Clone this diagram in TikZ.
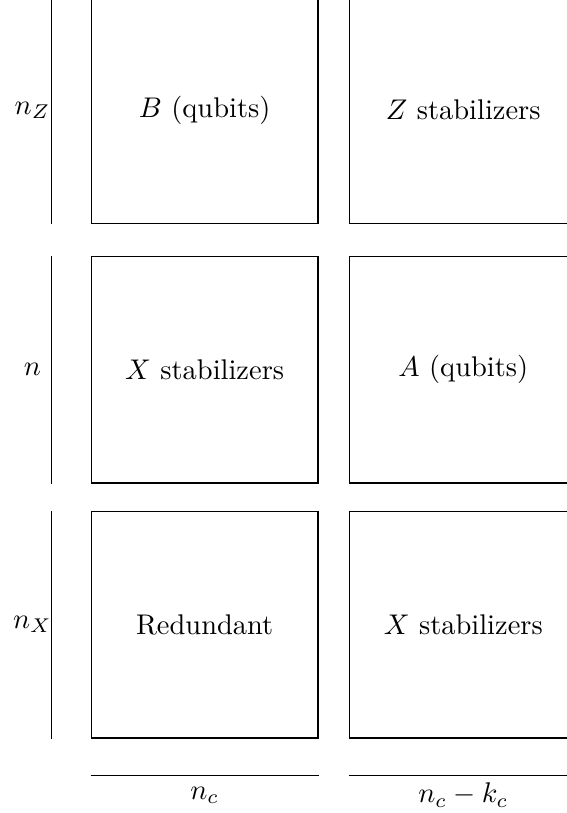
\documentclass[tikz,border=0pt]{standalone}
\usepackage{tikz}
\usetikzlibrary{positioning}
\usepackage{amsmath}

\begin{document}
\begin{tikzpicture}[
    node distance=0.335cm and 0.38cm,
    cell/.style={rectangle, draw=black, minimum width=2.8cm, minimum height=2.8cm,
                 inner sep=0pt, line width=0.4pt},
    dim/.style={line width=0.4pt},
    dimlabel/.style={inner sep=0pt}
]
\clip (-1.12,-0.92) rectangle (5.88,9.12);

% Nodes
\node[cell, anchor=south west] (red) at (0,0) {Redundant};
\node[cell, above=of red] (xstab) {$X$ stabilizers};
\node[cell, above=0.39cm of xstab] (bqub) {$B$ (qubits)};
\node[cell, right=of red] (xstabR) {$X$ stabilizers};
\node[cell, right=of xstab] (aqub) {$A$ (qubits)};
\node[cell, right=of bqub] (zstab) {$Z$ stabilizers};

% Dimensions (rows)
\draw[dim] ([xshift=-0.48cm]red.south west) -- ([xshift=-0.48cm]red.north west)
    node[midway, xshift=-0.24cm, dimlabel] {$n_X$};
\draw[dim] ([xshift=-0.48cm]xstab.south west) -- ([xshift=-0.48cm]xstab.north west)
    node[midway, xshift=-0.24cm, dimlabel] {$n$};
\draw[dim] ([xshift=-0.48cm]bqub.south west) -- ([xshift=-0.48cm]bqub.north west)
    node[midway, xshift=-0.24cm, dimlabel] {$n_Z$};

% Dimensions (columns)
\draw[dim] ([yshift=-0.46cm]red.south west) -- ([yshift=-0.46cm]red.south east)
    node[midway, yshift=-0.24cm, dimlabel] {$n_c$};
\draw[dim] ([yshift=-0.46cm]xstabR.south west) -- ([yshift=-0.46cm]xstabR.south east)
    node[midway, yshift=-0.24cm, dimlabel] {$n_c - k_c$};
\end{tikzpicture}
\end{document}
